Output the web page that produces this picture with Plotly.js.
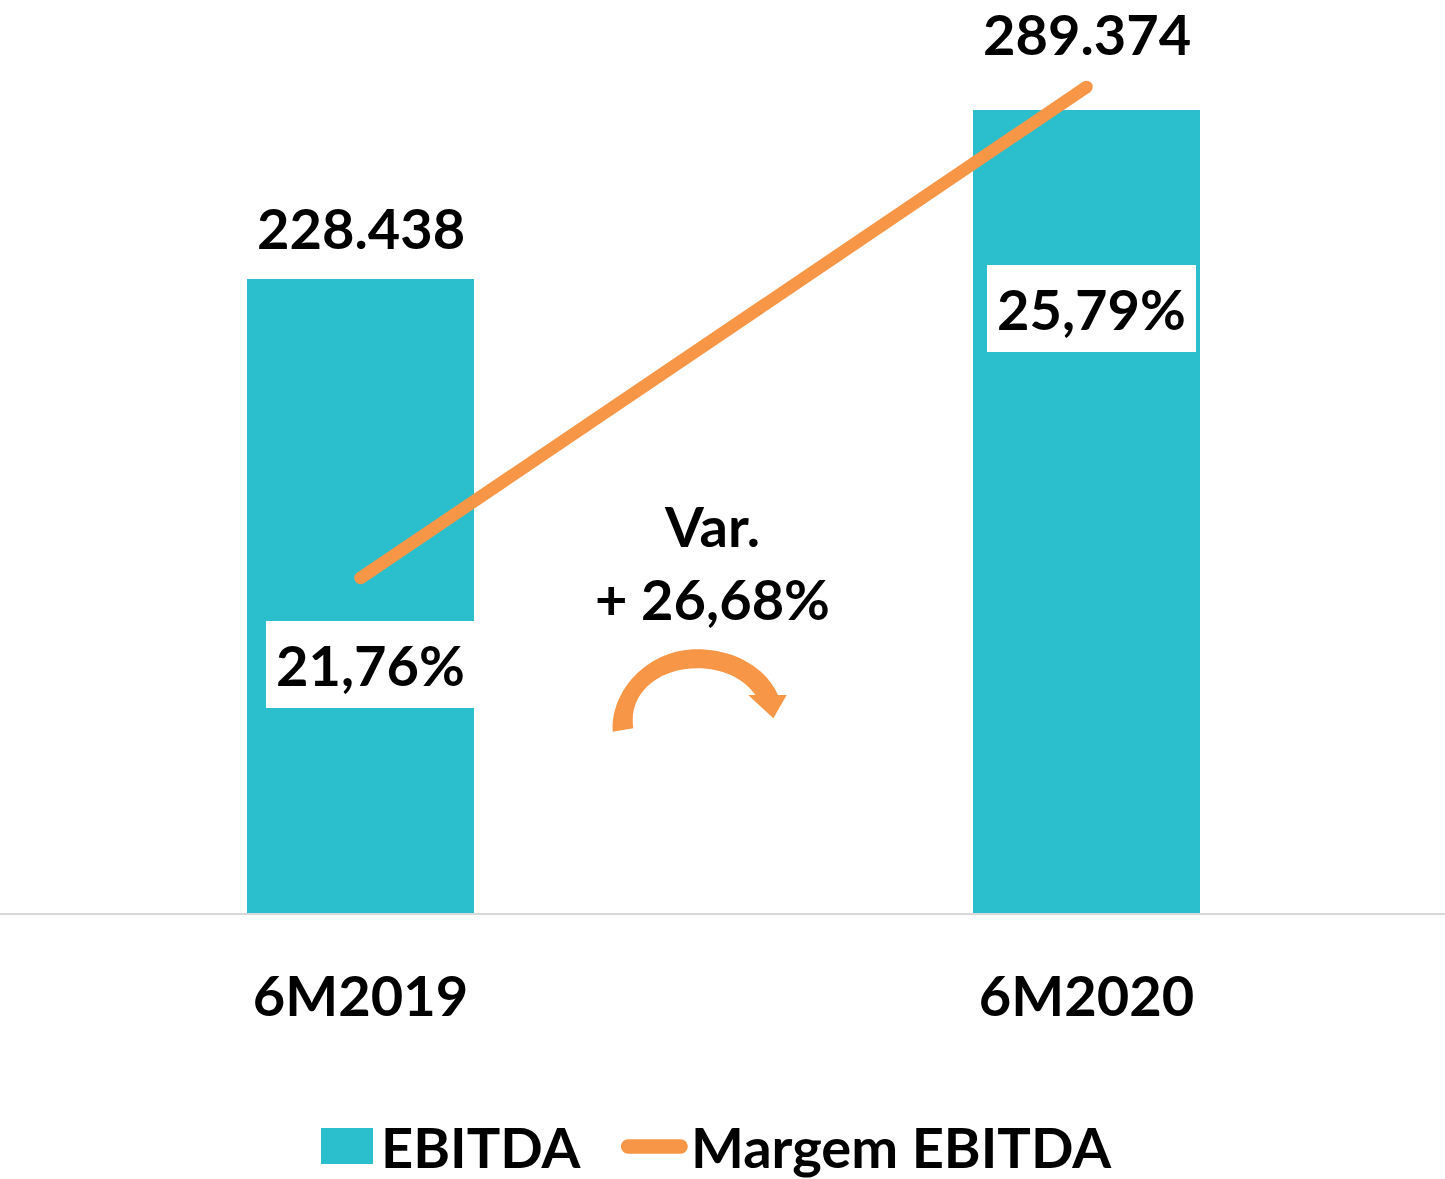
<!DOCTYPE html>
<html><head><meta charset="utf-8">
<script src="https://cdn.plot.ly/plotly-3.0.1.min.js"></script>
<style>html,body{margin:0;padding:0;background:#fff;overflow:hidden}#chart{width:1445px;height:1179px}</style>
</head><body><div id="chart"></div>
<script>
// ---- data ----
const categories = ['6M2019', '6M2020'];
const ebitda = [228.438, 289.374];
const margem = [21.76, 25.79];
const ebitdaLabels = ['228.438', '289.374'];
const margemLabels = ['21,76%', '25,79%'];
const variationLabel = 'Var.<br>+ 26,68%';
const seriesNames = ['EBITDA', 'Margem EBITDA'];

// ---- styling / layout helpers ----
const TEAL = '#2BBFCD', ORANGE = '#F79646';
const FONT = 'Lato, "Open Sans", "Noto Sans", sans-serif';
const FS = 56;
const W = 1445, H = 1179;
const M = {l: 0, r: 0, t: 0, b: 266};
const plotW = W - M.l - M.r, plotH = H - M.t - M.b;
const px = x => (x - M.l) / plotW;
const py = y => (H - M.b - y) / plotH;
const P = (x, y) => px(x).toFixed(5) + ',' + py(y).toFixed(5);

const barLabelShift = [52, 77];
const pctLabelShift = [[10, -86], [5, -222]];
const LEG_Y = 1146;

const font = {family: FONT, size: FS, color: '#000', weight: 'bold'};

const traces = [
  {type: 'bar', x: categories, y: ebitda, name: seriesNames[0], width: 0.3127,
   marker: {color: TEAL, line: {width: 0}}, showlegend: false, hoverinfo: 'skip'},
  {type: 'scatter', mode: 'lines+markers', x: categories, y: margem, yaxis: 'y2', name: seriesNames[1],
   line: {color: ORANGE, width: 12.5}, marker: {color: ORANGE, size: 12.5, line: {width: 0}},
   showlegend: false, hoverinfo: 'skip', cliponaxis: false}
];

const annotations = [];
categories.forEach((c, i) => {
  annotations.push({x: c, y: ebitda[i], xref: 'x', yref: 'y', text: ebitdaLabels[i], showarrow: false,
    xanchor: 'center', yanchor: 'middle', yshift: barLabelShift[i], font: font});
  annotations.push({x: c, y: margem[i], xref: 'x', yref: 'y2', text: margemLabels[i], showarrow: false,
    xanchor: 'center', yanchor: 'middle', xshift: pctLabelShift[i][0], yshift: pctLabelShift[i][1],
    font: font, bgcolor: '#FFFFFF', borderwidth: 0, borderpad: 0, width: 209, height: 87});
});
annotations.push({x: px(712.5), y: py(562), xref: 'paper', yref: 'paper', text: variationLabel, showarrow: false,
  xanchor: 'center', yanchor: 'middle', align: 'center', font: font});
// legend texts
annotations.push({x: px(379), y: py(LEG_Y), xref: 'paper', yref: 'paper', text: seriesNames[0], showarrow: false,
  xanchor: 'left', yanchor: 'middle', font: font});
annotations.push({x: px(689), y: py(LEG_Y), xref: 'paper', yref: 'paper', text: seriesNames[1], showarrow: false,
  xanchor: 'left', yanchor: 'middle', font: font});

// curved arrow (decoration)
const arrowPath = 'M' + P(612.7, 731.7) +
  ' C' + P(611, 688) + ' ' + P(650, 649.3) + ' ' + P(696.7, 649.3) +
  ' C' + P(735, 649.3) + ' ' + P(766, 668) + ' ' + P(778, 695) +
  ' L' + P(786.7, 695) + ' L' + P(773.3, 718.3) + ' L' + P(748.3, 695) + ' L' + P(755.5, 695) +
  ' C' + P(744, 679) + ' ' + P(724, 668.3) + ' ' + P(696.7, 668.3) +
  ' C' + P(660, 668.3) + ' ' + P(628, 692) + ' ' + P(633.3, 728.3) + ' Z';

// legend capsule
const r = 7.2, cx0 = 628.2, cx1 = 680.5, cy = LEG_Y + 0.5, k = r * 0.5523;
const capsule = 'M' + P(cx0, cy - r) + ' L' + P(cx1, cy - r) +
  ' C' + P(cx1 + k, cy - r) + ' ' + P(cx1 + r, cy - k) + ' ' + P(cx1 + r, cy) +
  ' C' + P(cx1 + r, cy + k) + ' ' + P(cx1 + k, cy + r) + ' ' + P(cx1, cy + r) +
  ' L' + P(cx0, cy + r) +
  ' C' + P(cx0 - k, cy + r) + ' ' + P(cx0 - r, cy + k) + ' ' + P(cx0 - r, cy) +
  ' C' + P(cx0 - r, cy - k) + ' ' + P(cx0 - k, cy - r) + ' ' + P(cx0, cy - r) + ' Z';

const shapes = [
  {type: 'path', xref: 'paper', yref: 'paper', path: arrowPath, fillcolor: ORANGE, line: {width: 0}},
  {type: 'rect', xref: 'paper', yref: 'paper', x0: px(321), x1: px(373), y0: py(LEG_Y + 18), y1: py(LEG_Y - 18),
   fillcolor: TEAL, line: {width: 0}},
  {type: 'path', xref: 'paper', yref: 'paper', path: capsule, fillcolor: ORANGE, line: {width: 0}}
];

const layout = {
  width: W, height: H, margin: M, paper_bgcolor: '#fff', plot_bgcolor: '#fff', showlegend: false,
  xaxis: {type: 'category', range: [-0.4966, 1.4938], showline: true, linecolor: '#D9D9D9', linewidth: 2,
    ticks: '', showgrid: false, zeroline: false, tickfont: font, ticklabelstandoff: 34, fixedrange: true},
  yaxis: {range: [0, 329.07], visible: false, showgrid: false, zeroline: false, fixedrange: true},
  yaxis2: {range: [19.0105, 26.504], overlaying: 'y', visible: false, showgrid: false, zeroline: false, fixedrange: true},
  annotations: annotations, shapes: shapes, bargap: 0
};

Plotly.newPlot('chart', traces, layout, {staticPlot: true, displayModeBar: false});
</script></body></html>
